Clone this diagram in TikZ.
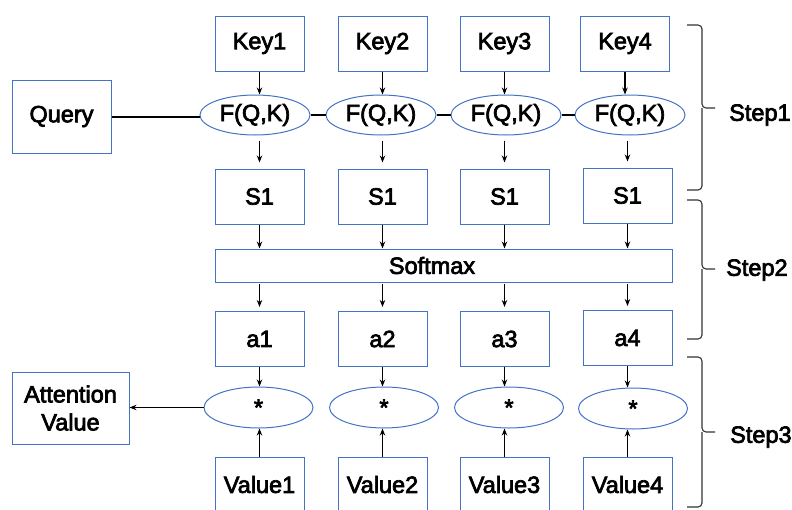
\documentclass[tikz,border=0pt]{standalone}
\usepackage{fontspec}
\newfontfamily\mf{Liberation Sans}[RawFeature={embolden=3}]
\usetikzlibrary{shapes.geometric,arrows.meta}
\definecolor{boxblue}{RGB}{68,114,196}
\definecolor{bracegray}{RGB}{50,50,50}
\begin{document}
\begin{tikzpicture}[x=1pt,y=-1pt,
  lbl/.style={font=\mf\fontsize{23.5}{28}\selectfont, text=black},
  box/.style={lbl, draw=boxblue, line width=1pt, minimum width=89pt, minimum height=55pt, inner sep=0pt},
  ell/.style={lbl, draw=boxblue, line width=1pt, ellipse, minimum width=110pt, minimum height=40pt, inner sep=0pt},
  arr/.style={-{Stealth[length=7pt,width=5.5pt]}, line width=1.2pt, black},
  link/.style={line width=1.2pt, black},
  brc/.style={line width=1.1pt, draw=bracegray, rounded corners=4pt},
]
\useasboundingbox (0,0) rectangle (792,509);
% Query and attention value
\node[box, minimum width=99pt, minimum height=73pt] (q) at (61.5,116.5) {Query};
\node[box, minimum width=117pt, minimum height=72pt, align=center] (av) at (70.5,408) {Attention\\Value};
% keys
\node[box] (k1) at (259.5,43.5) {Key1};
\node[box] (k2) at (382.5,43.5) {Key2};
\node[box] (k3) at (504.5,43.5) {Key3};
\node[box] (k4) at (625,43.5) {Key4};
% F(Q,K)
\node[ell] (f1) at (255,115) {F(Q,K)};
\node[ell] (f2) at (381,115) {F(Q,K)};
\node[ell] (f3) at (506,115) {F(Q,K)};
\node[ell] (f4) at (630,115) {F(Q,K)};
% S1
\node[box] (s1) at (259.5,196.5) {S1};
\node[box] (s2) at (382.5,196.5) {S1};
\node[box] (s3) at (504.5,196.5) {S1};
\node[box] (s4) at (627.5,195.5) {S1};
% softmax
\node[box, minimum width=457pt, minimum height=33pt] (sm) at (443.5,265.5) {};
\node[lbl] (smt) at (432,265.5) {Softmax};
% a
\node[box] (a1) at (259.5,339) {a1};
\node[box] (a2) at (382.5,339) {a2};
\node[box] (a3) at (504.5,339) {a3};
\node[box] (a4) at (627.5,338) {a4};
% products
\node[ell, minimum width=109pt, minimum height=41pt] (m1) at (258.5,407.5) {*};
\node[ell, minimum width=109pt, minimum height=41pt] (m2) at (384,407.5) {*};
\node[ell, minimum width=109pt, minimum height=41pt] (m3) at (509,407.5) {*};
\node[ell, minimum width=109pt, minimum height=41pt] (m4) at (633,408.5) {*};
% values
\node[box] (v1) at (259.5,484.5) {Value1};
\node[box] (v2) at (382.5,484.5) {Value2};
\node[box] (v3) at (504.5,484.5) {Value3};
\node[box] (v4) at (627.5,484.5) {Value4};
% query links
\draw[link] (q.east |- 0,117) -- (f1.west |- 0,117);
\draw[link] (f1.east) -- (f2.west);
\draw[link] (f2.east) -- (f3.west);
\draw[link] (f3.east) -- (f4.west);
% arrows
\foreach \i in {1,2,3,4}{
  \draw[arr] (k\i.south) -- (k\i.south |- f\i.north);
  \draw[arr, shorten <=5pt, shorten >=6pt] (s\i.north |- f\i.south) -- (s\i.north);
  \draw[arr] (s\i.south) -- (s\i.south |- sm.north);
  \draw[arr, shorten <=1pt, shorten >=4pt] (a\i.north |- sm.south) -- (a\i.north);
  \draw[arr] (a\i.south) -- (a\i.south |- m\i.north);
  \draw[arr] (v\i.north) -- (v\i.north |- m\i.south);
}
\draw[arr] (m1.west) -- (av.east |- m1.west);
% braces
\coordinate (b1t) at (687,25); \coordinate (b1m) at (702,108); \coordinate (b1b) at (687,190);
\draw[brc] (b1t) -| (b1m) -- ++(13,0);
\draw[brc] (b1m) |- (b1b);
\coordinate (b2t) at (687,200); \coordinate (b2m) at (702,269); \coordinate (b2b) at (687,339);
\draw[brc] (b2t) -| (b2m) -- ++(13,0);
\draw[brc] (b2m) |- (b2b);
\coordinate (b3t) at (687,357); \coordinate (b3m) at (702,432); \coordinate (b3b) at (687,507);
\draw[brc] (b3t) -| (b3m) -- ++(13,0);
\draw[brc] (b3m) |- (b3b);
\node[lbl, anchor=west, inner sep=0pt] (st1) at (729,115) {Step1};
\node[lbl, anchor=west, inner sep=0pt] (st2) at (726,270) {Step2};
\node[lbl, anchor=west, inner sep=0pt] (st3) at (730,437) {Step3};
\end{tikzpicture}
\end{document}
